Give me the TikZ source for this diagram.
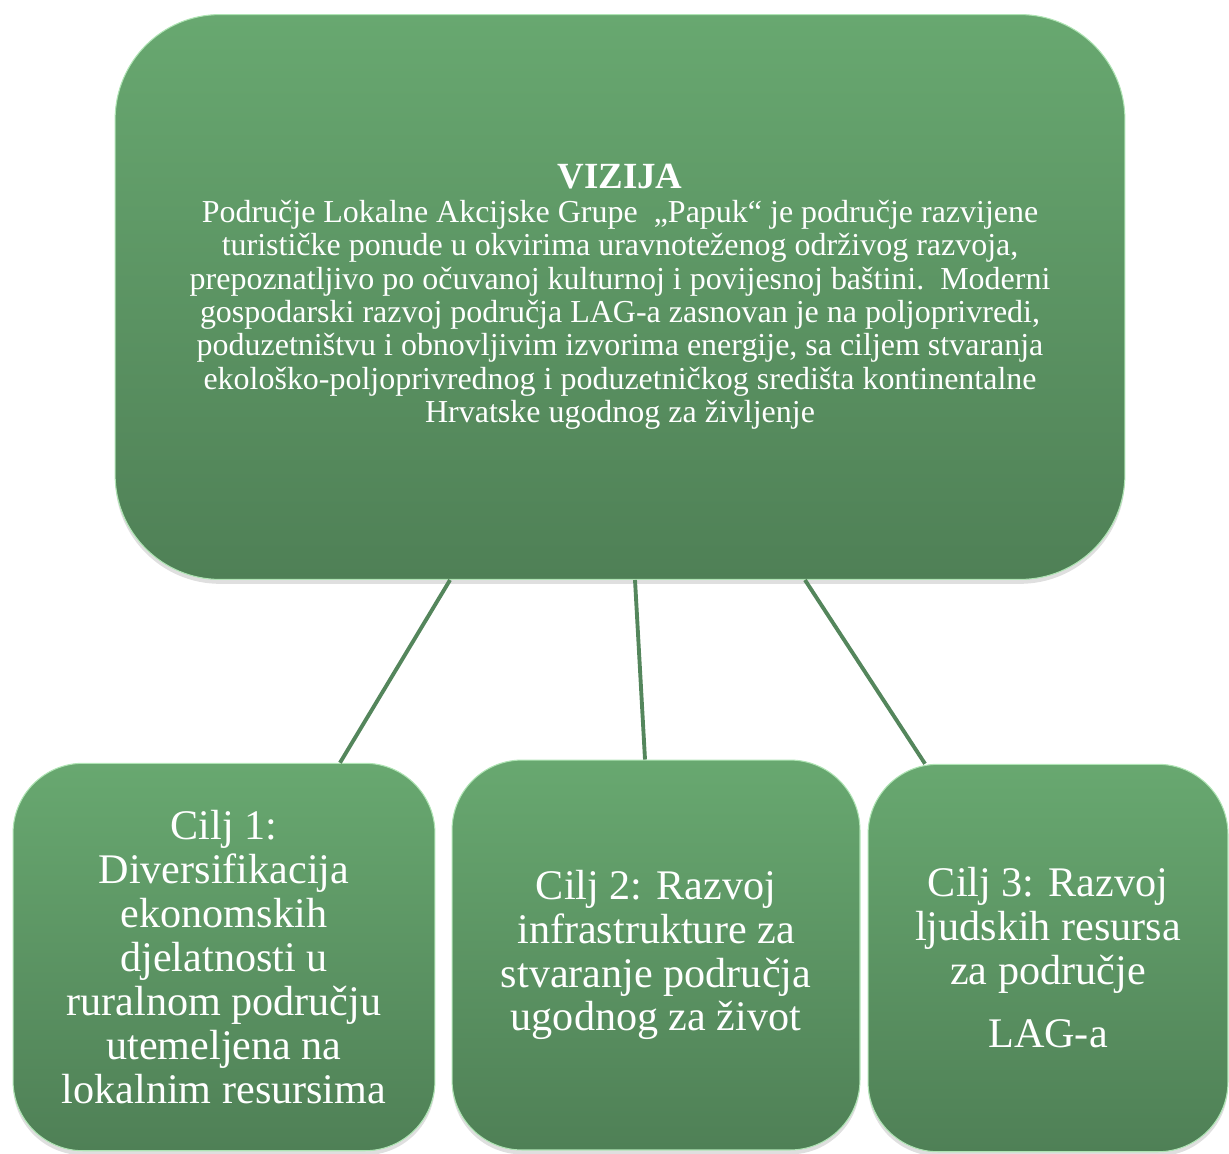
\documentclass[tikz,border=0pt]{standalone}
\usepackage{fontspec}
\setmainfont{Liberation Serif}
\usetikzlibrary{shadows,positioning}
\definecolor{boxtop}{RGB}{104,168,112}
\definecolor{boxbot}{RGB}{79,128,86}
\definecolor{linkgreen}{RGB}{84,134,92}
\definecolor{rimgreen}{RGB}{175,228,180}

\begin{document}
\begin{tikzpicture}[x=0.02cm,y=-0.02cm]
	\tikzset{box/.style = {rectangle,top color=boxtop,bottom color=boxbot,draw=rimgreen,line width=0.6pt,text=white,align=center,drop shadow={shadow xshift=0pt,shadow yshift=-2.5pt,opacity=0.25}}}
	\tikzset{goal/.style = {box,rounded corners=1.4cm,minimum height=7.75cm,font=\fontsize{24}{25}\selectfont}}
	\tikzset{link/.style = {draw=linkgreen,line width=2.2pt}}
	\useasboundingbox (0,0) rectangle (1229,1153);
	% vertices
	\node[box,rounded corners=2.1cm,minimum width=20.2cm,minimum height=11.3cm,font=\fontsize{18.2}{19}\selectfont] (vision) at (620,297)
		{{\fontsize{21}{20.5}\selectfont\textbf{VIZIJA}}\\
		Područje Lokalne Akcijske Grupe\ \ „Papuk“ je područje razvijene\\
		turističke ponude u okvirima uravnoteženog održivog razvoja,\\
		prepoznatljivo po očuvanoj kulturnoj i povijesnoj baštini.\ \ Moderni\\
		gospodarski razvoj područja LAG-a zasnovan je na poljoprivredi,\\
		poduzetništvu i obnovljivim izvorima energije, sa ciljem stvaranja\\
		ekološko-poljoprivrednog i poduzetničkog središta kontinentalne\\
		Hrvatske ugodnog za življenje};
	\node[goal,minimum width=8.44cm] (goal1) at (224,957)
		{Cilj 1:\\ Diversifikacija\\ ekonomskih\\ djelatnosti u\\ ruralnom području\\ utemeljena na\\ lokalnim resursima};
	\node[goal,minimum width=8.16cm,minimum height=7.8cm] (goal2) at (656,955)
		{Cilj 2: Razvoj\\ infrastrukture za\\ stvaranje područja\\ ugodnog za život};
	\node[goal,minimum width=7.2cm] (goal3) at (1048,958)
		{Cilj 3: Razvoj\\ ljudskih resursa\\ za područje\\[11pt] LAG-a};
	%edges
	\draw[link] ([xshift=-3.4cm]vision.south) -- ([xshift=2.32cm]goal1.north);
	\draw[link] ([xshift=0.3cm]vision.south) -- ([xshift=-0.22cm]goal2.north);
	\draw[link] ([xshift=3.7cm]vision.south) -- ([xshift=-2.46cm]goal3.north);
\end{tikzpicture}
\end{document}
